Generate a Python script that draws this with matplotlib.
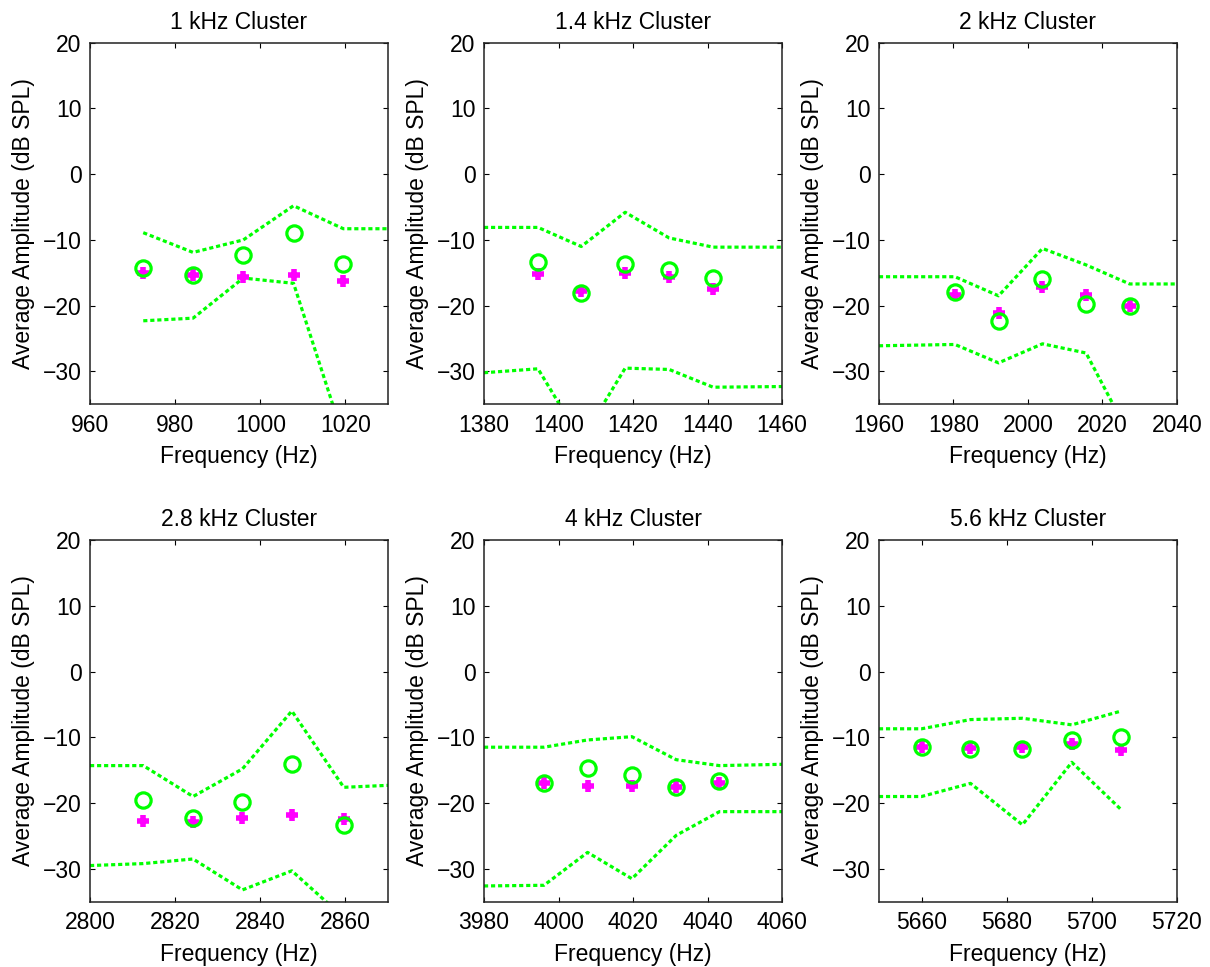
import matplotlib
matplotlib.use("Agg")
import matplotlib.pyplot as plt

# cluster titles and axis limits
titles = ["1 kHz Cluster", "1.4 kHz Cluster", "2 kHz Cluster",
          "2.8 kHz Cluster", "4 kHz Cluster", "5.6 kHz Cluster"]
x_limits = [(960, 1030), (1380, 1460), (1960, 2040),
            (2800, 2870), (3980, 4060), (5650, 5720)]
x_ticks = [[960, 980, 1000, 1020], [1380, 1400, 1420, 1440, 1460],
           [1960, 1980, 2000, 2020, 2040], [2800, 2820, 2840, 2860],
           [3980, 4000, 4020, 4040, 4060], [5660, 5680, 5700, 5720]]
y_ticks = [-30, -20, -10, 0, 10, 20]

# component frequencies (Hz)
freqs = [
    [972.5, 984.2, 996.0, 1007.8, 1019.5],
    [1394.5, 1406.1, 1417.9, 1429.7, 1441.5],
    [1980.4, 1992.1, 2003.9, 2015.6, 2027.3],
    [2812.5, 2824.2, 2835.8, 2847.4, 2859.6],
    [3996.1, 4007.8, 4019.7, 4031.6, 4043.2],
    [5660.0, 5671.5, 5683.7, 5695.3, 5706.9],
]

# green circles
circle_amp = [
    [-14.2, -15.4, -12.3, -9.0, -13.6],
    [-13.4, -18.1, -13.6, -14.5, -15.8],
    [-17.9, -22.3, -15.9, -19.8, -20.0],
    [-19.6, -22.3, -19.9, -14.0, -23.4],
    [-16.9, -14.6, -15.7, -17.6, -16.7],
    [-11.5, -11.8, -11.8, -10.4, -9.9],
]

# magenta pluses
plus_amp = [
    [-15.0, -15.3, -15.6, -15.3, -16.2],
    [-15.2, -17.8, -15.1, -15.6, -17.5],
    [-18.4, -21.1, -17.2, -18.4, -20.0],
    [-22.7, -22.9, -22.3, -21.8, -22.4],
    [-16.9, -17.4, -17.4, -17.6, -16.9],
    [-11.4, -11.6, -11.5, -11.0, -11.9],
]

# dotted bounds
upper_freq = [
    [972.5, 984.2, 996.0, 1007.8, 1019.5, 1030],
    [1380, 1394.5, 1406.1, 1417.9, 1429.7, 1441.5, 1460],
    [1960, 1980.4, 1992.1, 2003.9, 2015.6, 2027.3, 2040],
    [2800, 2812.5, 2824.2, 2835.8, 2847.4, 2859.6, 2870],
    [3980, 3996.1, 4007.8, 4019.7, 4031.6, 4043.2, 4060],
    [5650, 5660.0, 5671.5, 5683.7, 5695.3, 5706.9],
]
upper_amp = [
    [-8.9, -11.9, -10.0, -4.8, -8.3, -8.3],
    [-8.1, -8.1, -11.0, -5.8, -9.7, -11.1, -11.1],
    [-15.6, -15.6, -18.5, -11.3, -13.8, -16.7, -16.7],
    [-14.3, -14.3, -19.0, -14.8, -6.0, -17.6, -17.3],
    [-11.5, -11.5, -10.4, -9.9, -13.4, -14.3, -14.1],
    [-8.7, -8.7, -7.3, -7.1, -8.1, -6.0],
]
lower_freq = [
    [972.5, 984.2, 996.0, 1007.8, 1019.5, 1030],
    [1380, 1394.5, 1406.1, 1417.9, 1429.7, 1441.5, 1460],
    [1960, 1980.4, 1992.1, 2003.9, 2015.6, 2027.3, 2040],
    [2800, 2812.5, 2824.2, 2835.8, 2847.4, 2859.6, 2870],
    [3980, 3996.1, 4007.8, 4019.7, 4031.6, 4043.2, 4060],
    [5650, 5660.0, 5671.5, 5683.7, 5695.3, 5706.9],
]
lower_amp = [
    [-22.3, -21.9, -15.8, -16.6, -40.0, -40.0],
    [-30.2, -29.6, -40.5, -29.5, -29.7, -32.4, -32.3],
    [-26.1, -25.9, -28.7, -25.8, -27.2, -39.8, -39.8],
    [-29.5, -29.2, -28.5, -33.2, -30.3, -37.4, -37.4],
    [-32.6, -32.5, -27.5, -31.5, -24.9, -21.3, -21.3],
    [-19.0, -19.0, -17.0, -23.3, -13.8, -21.0],
]

GREEN = "#00ff00"
MAGENTA = "#ff00ff"
FS = 16.5


def main():
    plt.rcParams["font.family"] = ["Liberation Sans", "DejaVu Sans"]
    plt.rcParams["font.size"] = FS
    fig = plt.figure(figsize=(12.10, 9.67), dpi=100)

    lefts = [0.0744, 0.4, 0.7264]
    bottoms = [0.5819, 0.0675]
    w, h = 0.2463, 0.374

    for i in range(6):
        ax = fig.add_axes([lefts[i % 3], bottoms[i // 3], w, h])
        dots = (0, (1.3, 0.9))
        ax.plot(upper_freq[i], upper_amp[i], color=GREEN, lw=2.3,
                linestyle=dots, zorder=2)
        ax.plot(lower_freq[i], lower_amp[i], color=GREEN, lw=2.3,
                linestyle=dots, zorder=2)
        ax.plot(freqs[i], plus_amp[i], linestyle="none", marker="+",
                color=MAGENTA, ms=9, mew=4, zorder=3)
        ax.plot(freqs[i], circle_amp[i], linestyle="none", marker="o",
                mfc="none", mec=GREEN, ms=11, mew=2.3, zorder=4)

        ax.set_xlim(*x_limits[i])
        ax.set_ylim(-35, 20)
        ax.set_xticks(x_ticks[i])
        ax.set_yticks(y_ticks)
        ax.tick_params(direction="in", length=3.5, width=0.8,
                       top=True, right=True, labelsize=FS)
        ax.tick_params(axis="y", pad=6)
        ax.tick_params(axis="x", pad=7)
        for s in ax.spines.values():
            s.set_linewidth(1.1)
            s.set_color("#222222")
        ax.set_title(titles[i], fontsize=FS, pad=10)
        ax.set_xlabel("Frequency (Hz)", fontsize=FS, labelpad=6)
        ax.set_ylabel("Average Amplitude (dB SPL)", fontsize=FS,
                      labelpad=5.5)

    fig.savefig("out.png", dpi=100)
    plt.close(fig)


if __name__ == "__main__":
    main()
